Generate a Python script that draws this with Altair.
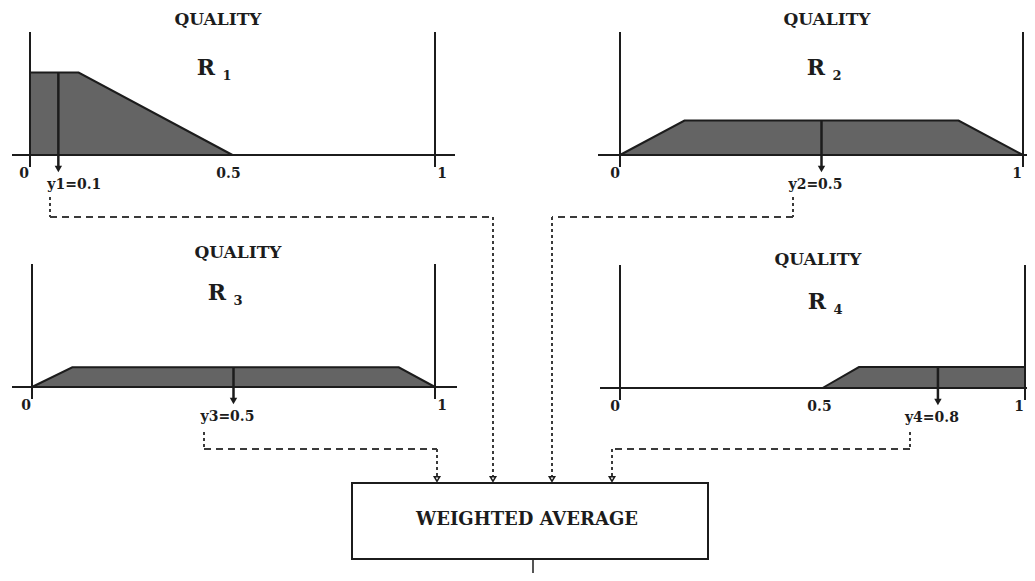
import altair as alt
import pandas as pd

# ---------------- data ----------------
panels = ["R1", "R2", "R3", "R4"]
panel_sub = ["1", "2", "3", "4"]

# membership-function vertices: quality value and membership degree
r1_q = [0.0, 0.12, 0.5]
r1_mu = [0.67, 0.67, 0.0]
r2_q = [0.0, 0.16, 0.84, 1.0]
r2_mu = [0.0, 0.28, 0.28, 0.0]
r3_q = [0.0, 0.10, 0.91, 1.0]
r3_mu = [0.0, 0.16, 0.16, 0.0]
r4_q = [0.5, 0.59, 1.0]
r4_mu = [0.0, 0.17, 0.17]

# defuzzified outputs (arrow position and label)
centroid_q = [0.07, 0.5, 0.5, 0.785]
centroid_top = [0.67, 0.28, 0.16, 0.17]
centroid_text = ["y1=0.1", "y2=0.5", "y3=0.5", "y4=0.8"]

# tick labels of each quality axis
tick_vals = [[0, 0.5, 1], [0, 1], [0, 1], [0, 0.5, 1]]
tick_text = [["0", "0.5", "1"], ["0", "1"], ["0", "1"], ["0", "0.5", "1"]]

title_text = "QUALITY"
box_text = "WEIGHTED AVERAGE"

# ---------------- layout (page pixels) ----------------
x_zero = [30, 620, 32, 620]
x_one = [435, 1023, 435, 1025]
base_y = [155, 155, 387, 388]
mu_px = 123
axis_from = [12, 598, 12, 600]
axis_to = [455, 1040, 457, 1040]
title_pos = [(218, 20), (827, 20), (238, 253), (818, 260)]
rname_pos = [(206, 68), (816, 68), (217, 293), (817, 302)]
label_dx_left = {0: -6, 0.5: -4, 1: 7}
label_dx_right = {0: -5, 0.5: -3, 1: -6}

def px(i, q):
    return x_zero[i] + q * (x_one[i] - x_zero[i])

def py(i, mu):
    return base_y[i] - mu * mu_px

shapes = [(r1_q, r1_mu), (r2_q, r2_mu), (r3_q, r3_mu), (r4_q, r4_mu)]
area_rows = []
for i, (qs, mus) in enumerate(shapes):
    for q, m in zip(qs, mus):
        area_rows.append({"panel": panels[i], "x": px(i, q), "y": py(i, m), "y0": base_y[i]})
area_df = pd.DataFrame(area_rows)

solid_rows = []
for i in range(4):
    solid_rows.append({"x": axis_from[i], "x2": axis_to[i], "y": base_y[i], "y2": base_y[i]})
    for q in (0, 1):
        solid_rows.append({"x": px(i, q), "x2": px(i, q), "y": py(i, 1.0), "y2": base_y[i] + 12})
solid_df = pd.DataFrame(solid_rows)

arrow_rows, head_rows = [], []
for i in range(4):
    ax = px(i, centroid_q[i])
    arrow_rows.append({"x": ax, "x2": ax, "y": py(i, centroid_top[i]), "y2": base_y[i] + 12})
    head_rows.append({"x": ax, "y": base_y[i] + 14})
arrow_df = pd.DataFrame(arrow_rows)
head_df = pd.DataFrame(head_rows)

tick_rows = []
for i in range(4):
    dxs = label_dx_left if i in (0, 2) else label_dx_right
    for v, t in zip(tick_vals[i], tick_text[i]):
        tick_rows.append({"x": px(i, v) + dxs[v], "y": base_y[i] + 19, "t": t})
tick_df = pd.DataFrame(tick_rows)

clab_rows = []
for i in range(4):
    clab_rows.append({"x": px(i, centroid_q[i]) + (16 if i == 0 else -6), "y": base_y[i] + 30,
                      "t": centroid_text[i]})
clab_df = pd.DataFrame(clab_rows)

title_df = pd.DataFrame([{"x": p[0], "y": p[1], "t": title_text} for p in title_pos])
rname_df = pd.DataFrame([{"x": p[0], "y": p[1], "t": "R"} for p in rname_pos])
rsub_df = pd.DataFrame([{"x": p[0] + 21, "y": p[1] + 8, "t": s} for p, s in zip(rname_pos, panel_sub)])

# connectors from outputs to the weighted-average box
box = {"x": 352, "x2": 708, "y": 483, "y2": 559}
inputs_x = [493, 552, 437, 612]
start_x = [50, 793, 204, 910]
start_y = [197, 197, 432, 432]
turn_y = [217, 217, 449, 449]
dot_rows, dash_rows, in_rows = [], [], []
for k in range(4):
    dot_rows.append({"x": start_x[k], "x2": start_x[k], "y": start_y[k], "y2": turn_y[k]})
    dash_rows.append({"x": start_x[k], "x2": inputs_x[k], "y": turn_y[k], "y2": turn_y[k]})
    dot_rows.append({"x": inputs_x[k], "x2": inputs_x[k], "y": turn_y[k], "y2": box["y"] - 6})
    in_rows.append({"x": inputs_x[k], "y": box["y"] - 4})
dot_df = pd.DataFrame(dot_rows)
dash_df = pd.DataFrame(dash_rows)
in_df = pd.DataFrame(in_rows)
box_df = pd.DataFrame([box])
boxtext_df = pd.DataFrame([{"x": (box["x"] + box["x2"]) / 2 - 3, "y": 520, "t": box_text}])
out_df = pd.DataFrame([{"x": 533, "x2": 533, "y": box["y2"], "y2": 600}])

# ---------------- chart ----------------
W, H = 1019, 565
xs = alt.Scale(domain=[8, 8 + W], nice=False, zero=False)
ys = alt.Scale(domain=[8, 8 + H], nice=False, zero=False, reverse=True)
X = lambda f="x": alt.X(f, type="quantitative", scale=xs, axis=None)
Y = lambda f="y": alt.Y(f, type="quantitative", scale=ys, axis=None)
FONT = "DejaVu Serif"
INK = "#1c1c1c"

areas = alt.Chart(area_df).mark_area(color="#646464", stroke=INK, strokeWidth=2, clip=True).encode(
    x=X(), y=Y(), y2=alt.Y2("y0"), detail="panel:N")
solid = alt.Chart(solid_df).mark_rule(color=INK, strokeWidth=2, clip=True).encode(
    x=X(), x2="x2", y=Y(), y2="y2")
arrows = alt.Chart(arrow_df).mark_rule(color=INK, strokeWidth=2.5).encode(
    x=X(), x2="x2", y=Y(), y2="y2")
heads = alt.Chart(head_df).mark_point(shape="triangle-down", filled=True, size=55, color=INK, opacity=1).encode(
    x=X(), y=Y())
ticks = alt.Chart(tick_df).mark_text(font=FONT, fontWeight="bold", fontSize=14, color=INK).encode(
    x=X(), y=Y(), text="t:N")
clabs = alt.Chart(clab_df).mark_text(font=FONT, fontWeight="bold", fontSize=14, color=INK).encode(
    x=X(), y=Y(), text="t:N")
titles = alt.Chart(title_df).mark_text(font=FONT, fontWeight="bold", fontSize=17, color=INK).encode(
    x=X(), y=Y(), text="t:N")
rnames = alt.Chart(rname_df).mark_text(font=FONT, fontWeight="bold", fontSize=22, color=INK).encode(
    x=X(), y=Y(), text="t:N")
rsubs = alt.Chart(rsub_df).mark_text(font=FONT, fontWeight="bold", fontSize=13, color=INK).encode(
    x=X(), y=Y(), text="t:N")
dots = alt.Chart(dot_df).mark_rule(color="#3a3a3a", strokeWidth=2, strokeDash=[3, 3]).encode(
    x=X(), x2="x2", y=Y(), y2="y2")
dashes = alt.Chart(dash_df).mark_rule(color="#3a3a3a", strokeWidth=2, strokeDash=[7, 5]).encode(
    x=X(), x2="x2", y=Y(), y2="y2")
ins = alt.Chart(in_df).mark_point(shape="triangle-down", filled=False, size=30, color=INK, strokeWidth=1.5, opacity=1).encode(
    x=X(), y=Y())
boxm = alt.Chart(box_df).mark_rect(fillOpacity=0, stroke=INK, strokeWidth=2).encode(
    x=X(), x2="x2", y=Y(), y2="y2")
boxt = alt.Chart(boxtext_df).mark_text(font=FONT, fontWeight="bold", fontSize=18, color=INK).encode(
    x=X(), y=Y(), text="t:N")
outl = alt.Chart(out_df).mark_rule(color=INK, strokeWidth=1.5, clip=True).encode(
    x=X(), x2="x2", y=Y(), y2="y2")

chart = alt.layer(
    areas, solid, arrows, heads, ticks, clabs, titles, rnames, rsubs,
    dots, dashes, ins, boxm, boxt, outl
).properties(
    width=W, height=H, autosize=alt.AutoSizeParams(type="none"), padding=0, background="white"
).configure_view(stroke=None, strokeWidth=0)

chart.save("out.html", embed_options={"renderer": "svg", "actions": False})
